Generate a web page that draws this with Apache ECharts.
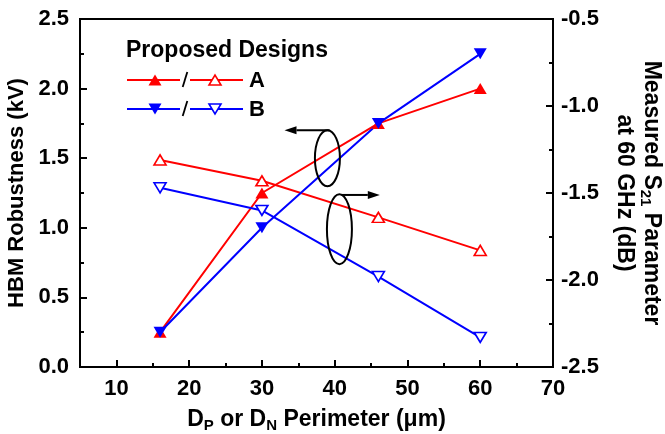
<!DOCTYPE html>
<html>
<head>
<meta charset="utf-8">
<script src="https://cdn.jsdelivr.net/npm/echarts@6/dist/echarts.min.js"></script>
<style>
  html, body { margin: 0; padding: 0; background: #fff; }
  #chart { width: 665px; height: 434px; }
</style>
</head>
<body>
<div id="chart"></div>
<script>
// Perimeter of the D_P / D_N diodes (µm)
const perimeter = [16, 30, 46, 60];
// HBM robustness (kV), left axis
const hbmA = [0.25, 1.25, 1.75, 2.0];
const hbmB = [0.25, 1.0, 1.75, 2.25];
// Measured S21 at 60 GHz (dB), right axis
const s21A = [-1.31, -1.43, -1.64, -1.83];
const s21B = [-1.47, -1.60, -1.98, -2.33];
// x-axis tick positions
const xMajorTicks = [10, 20, 30, 40, 50, 60, 70];
const xMinorTicks = [15, 25, 35, 45, 55, 65];
const designNames = ['A', 'B'];

const FONT = '"Liberation Sans", Arial, Helvetica, sans-serif';
const RED = '#ff0000';
const BLUE = '#0000ff';
const BLACK = '#000000';

const chart = echarts.init(document.getElementById('chart'), null, { renderer: 'canvas' });

const labelStyle = { color: BLACK, fontFamily: FONT, fontWeight: 'bold', fontSize: 22 };
const rich = {
  b: { color: BLACK, fontFamily: FONT, fontWeight: 'bold', fontSize: 23, lineHeight: 27 },
  s: { color: BLACK, fontFamily: FONT, fontWeight: 'bold', fontSize: 15, lineHeight: 15, verticalAlign: 'bottom' }
};

const zip = (xs, ys) => xs.map((x, i) => [x, ys[i]]);

function filledSeries(name, color, values, down) {
  return {
    name: name, type: 'line', xAxisIndex: 0, yAxisIndex: 0,
    data: zip(perimeter, values),
    symbol: 'triangle', symbolSize: [13, 11], symbolRotate: down ? 180 : 0,
    lineStyle: { color: color, width: 2 },
    itemStyle: { color: color, borderWidth: 0 },
    animation: false, z: 3
  };
}
function hollowSeries(name, color, values, down) {
  return {
    name: name, type: 'line', xAxisIndex: 0, yAxisIndex: 1,
    data: zip(perimeter, values),
    symbol: 'triangle', symbolSize: [12, 10], symbolRotate: down ? 180 : 0,
    lineStyle: { color: color, width: 2 },
    itemStyle: { color: '#ffffff', borderColor: color, borderWidth: 1.6 },
    animation: false, z: 3
  };
}

const tickStyle = { color: BLACK, width: 2 };

chart.setOption({
  backgroundColor: '#ffffff',
  animation: false,
  grid: {
    left: 80, right: 112, top: 19, bottom: 67,
    outerBoundsMode: 'none', containLabel: false,
    show: true, borderColor: BLACK, borderWidth: 2, backgroundColor: 'transparent'
  },
  xAxis: [
    {
      type: 'value', position: 'bottom', min: 5, max: 70, interval: 5,
      axisLine: { show: true, lineStyle: { color: BLACK, width: 2 } },
      axisTick: { show: true, inside: true, length: 7, lineStyle: tickStyle, customValues: xMajorTicks },
      axisLabel: Object.assign({ margin: 11, customValues: xMajorTicks }, labelStyle),
      splitLine: { show: false },
      name: '{b|D}{s|P}{b| or D}{s|N}{b| Perimeter (\u03bcm)}',
      nameLocation: 'middle', nameGap: 39,
      nameTextStyle: { rich: rich }
    },
    {
      type: 'value', position: 'bottom', min: 5, max: 70, interval: 5,
      axisLine: { show: false },
      axisTick: { show: true, inside: true, length: 4, lineStyle: tickStyle, customValues: xMinorTicks },
      axisLabel: { show: false },
      splitLine: { show: false }
    }
  ],
  yAxis: [
    {
      type: 'value', position: 'left', min: 0, max: 2.5, interval: 0.5,
      axisLine: { show: true, lineStyle: { color: BLACK, width: 2 } },
      axisTick: { show: true, inside: true, length: 7, lineStyle: tickStyle },
      minorTick: { show: true, splitNumber: 2, length: 4, lineStyle: tickStyle },
      axisLabel: Object.assign({ margin: 11, formatter: v => v.toFixed(1) }, labelStyle),
      splitLine: { show: false },
      name: 'HBM Robustness (kV)',
      nameLocation: 'middle', nameRotate: 90, nameGap: 48,
      nameTextStyle: { color: BLACK, fontFamily: FONT, fontWeight: 'bold', fontSize: 22 }
    },
    {
      type: 'value', position: 'right', min: -2.5, max: -0.5, interval: 0.5,
      axisLine: { show: true, lineStyle: { color: BLACK, width: 2 } },
      axisTick: { show: true, inside: true, length: 7, lineStyle: tickStyle },
      minorTick: { show: true, splitNumber: 2, length: 4, lineStyle: tickStyle },
      axisLabel: Object.assign({ margin: 8, formatter: v => v.toFixed(1) }, labelStyle),
      splitLine: { show: false },
      name: '{b|Measured S}{s|21}{b| Parameter}\n{b|at 60 GHz (dB)}',
      nameLocation: 'middle', nameRotate: -90, nameGap: 58,
      nameTextStyle: { rich: rich, align: 'center' }
    }
  ],
  series: [
    filledSeries('A HBM', RED, hbmA, false),
    hollowSeries('A S21', RED, s21A, false),
    filledSeries('B HBM', BLUE, hbmB, true),
    hollowSeries('B S21', BLUE, s21B, true)
  ]
});

// Annotation ellipses with arrows pointing to the axis each group belongs to
const px = p => chart.convertToPixel({ xAxisIndex: 0, yAxisIndex: 0 }, p);

function arrow(from, to) {
  const a = px(from), b = px(to);
  const dir = Math.sign(b[0] - a[0]);
  const headLen = 12, headHalf = 4;
  return [
    { type: 'line', shape: { x1: a[0], y1: a[1], x2: b[0] - dir * headLen, y2: b[1] },
      style: { stroke: BLACK, lineWidth: 2 }, z: 10 },
    { type: 'polygon', shape: { points: [[b[0], b[1]], [b[0] - dir * headLen, b[1] - headHalf], [b[0] - dir * headLen, b[1] + headHalf]] },
      style: { fill: BLACK }, z: 10 }
  ];
}
function ellipse(center, rx, ry) {
  const c = px(center);
  return { type: 'ellipse', shape: { cx: c[0], cy: c[1], rx: rx, ry: ry },
    style: { fill: 'none', stroke: BLACK, lineWidth: 2 }, z: 10 };
}

// Legend: filled marker / hollow marker for each design
function tri(cx, cy, w, h, down) {
  return down
    ? [[cx - w / 2, cy - h / 2], [cx + w / 2, cy - h / 2], [cx, cy + h / 2]]
    : [[cx - w / 2, cy + h / 2], [cx + w / 2, cy + h / 2], [cx, cy - h / 2]];
}
function legendRow(y, color, down, label) {
  return [
    { type: 'line', shape: { x1: 127, y1: y, x2: 243, y2: y }, style: { stroke: color, lineWidth: 2 }, z: 10 },
    { type: 'polygon', shape: { points: tri(155, y, 13, 11, down) }, style: { fill: color }, z: 11 },
    { type: 'polygon', shape: { points: tri(215, y, 12, 10, down) }, style: { fill: '#ffffff', stroke: color, lineWidth: 1.6 }, z: 11 },
    { type: 'rect', shape: { x: 180, y: y - 2, width: 10, height: 4 }, style: { fill: '#ffffff' }, z: 11 },
    { type: 'line', shape: { x1: 182.7, y1: y + 7, x2: 187.3, y2: y - 8 }, style: { stroke: BLACK, lineWidth: 1.8 }, z: 12 },
    { type: 'text', x: 249, y: y + 1, style: { text: label, fill: BLACK, font: 'bold 22px ' + FONT, verticalAlign: 'middle' }, z: 12 }
  ];
}

chart.setOption({
  graphic: [
    ellipse([39.0, 1.50], 12.5, 28),
    ...arrow([39.3, 1.70], [33.1, 1.70]),
    ellipse([40.65, 0.99], 12.5, 35),
    ...arrow([40.9, 1.236], [46.2, 1.236]),
    { type: 'text', x: 126, y: 51, style: { text: 'Proposed Designs', fill: BLACK, font: 'bold 23px ' + FONT, verticalAlign: 'middle' }, z: 12 },
    ...legendRow(80, RED, false, designNames[0]),
    ...legendRow(109, BLUE, true, designNames[1])
  ]
});
</script>
</body>
</html>
